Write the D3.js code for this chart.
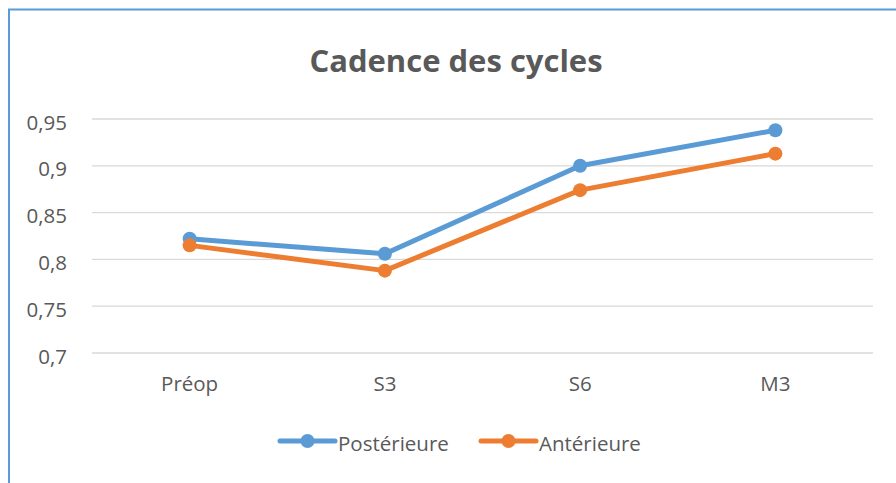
<!DOCTYPE html>
<html>
<head>
<meta charset="utf-8">
<script src="https://cdn.jsdelivr.net/npm/d3@7"></script>
<style>
  body { margin: 0; background: #fff; }
  text { font-family: "Open Sans", sans-serif; fill: #595959; }
</style>
</head>
<body>
<div id="chart"></div>
<script>
const categories = ["Préop", "S3", "S6", "M3"];
const posterieure = [0.822, 0.806, 0.900, 0.938];
const anterieure = [0.815, 0.788, 0.874, 0.913];
const yTicks = [0.7, 0.75, 0.8, 0.85, 0.9, 0.95];
const seriesNames = ["Postérieure", "Antérieure"];
const colors = ["#5b9bd5", "#ed7d31"];

const width = 896, height = 483;
const margin = {top: 119, right: 23, bottom: 130, left: 92};

const svg = d3.select("#chart").append("svg")
  .attr("width", width)
  .attr("height", height);

// outer frame (blue, cut by the window on the right and bottom)
svg.append("rect")
  .attr("x", 9).attr("y", 9.5)
  .attr("width", width + 20).attr("height", height + 20)
  .attr("fill", "none")
  .attr("stroke", "#5b9bd5")
  .attr("stroke-width", 2);

const x = d3.scaleBand()
  .domain(categories)
  .range([margin.left, width - margin.right]);

const y = d3.scaleLinear()
  .domain([0.7, 0.95])
  .range([height - margin.bottom, margin.top]);

const fmt = d => String(+d.toFixed(2)).replace(".", ",");

// gridlines
svg.append("g")
  .selectAll("line")
  .data(yTicks)
  .enter().append("line")
    .attr("x1", margin.left)
    .attr("x2", width - margin.right)
    .attr("y1", d => y(d))
    .attr("y2", d => y(d))
    .attr("stroke", "#d9d9d9")
    .attr("stroke-width", 1.3);

// y labels
svg.append("g")
  .selectAll("text")
  .data(yTicks)
  .enter().append("text")
    .attr("x", 67)
    .attr("y", d => y(d) + 10.5)
    .attr("text-anchor", "end")
    .style("font-size", "20.5px")
    .text(fmt);

// x labels
svg.append("g")
  .selectAll("text")
  .data(categories)
  .enter().append("text")
    .attr("x", d => x(d) + x.bandwidth() / 2)
    .attr("y", 391)
    .attr("text-anchor", "middle")
    .style("font-size", "20.5px")
    .text(d => d);

// title
svg.append("text")
  .attr("x", 456)
  .attr("y", 72)
  .attr("text-anchor", "middle")
  .style("font-size", "31px")
  .style("font-weight", "bold")
  .text("Cadence des cycles");

const line = d3.line()
  .x((d, i) => x(categories[i]) + x.bandwidth() / 2)
  .y(d => y(d));

[posterieure, anterieure].forEach((vals, k) => {
  const g = svg.append("g");
  g.append("path")
    .datum(vals)
    .attr("fill", "none")
    .attr("stroke", colors[k])
    .attr("stroke-width", 5)
    .attr("stroke-linejoin", "round")
    .attr("stroke-linecap", "round")
    .attr("d", line);
  g.selectAll("circle")
    .data(vals)
    .enter().append("circle")
      .attr("cx", (d, i) => x(categories[i]) + x.bandwidth() / 2)
      .attr("cy", d => y(d))
      .attr("r", 7)
      .attr("fill", colors[k]);
});

// legend
const legendX = [280, 481];
const legend = svg.append("g")
  .selectAll("g")
  .data(seriesNames)
  .enter().append("g")
    .attr("transform", (d, i) => `translate(${legendX[i]}, 441)`);
legend.append("line")
  .attr("x1", 0).attr("x2", 55)
  .attr("stroke", (d, i) => colors[i])
  .attr("stroke-width", 5)
  .attr("stroke-linecap", "round");
legend.append("circle")
  .attr("cx", 27.5)
  .attr("r", 7)
  .attr("fill", (d, i) => colors[i]);
legend.append("text")
  .attr("x", 58)
  .attr("y", 10)
  .style("font-size", "20.5px")
  .text(d => d);
</script>
</body>
</html>
